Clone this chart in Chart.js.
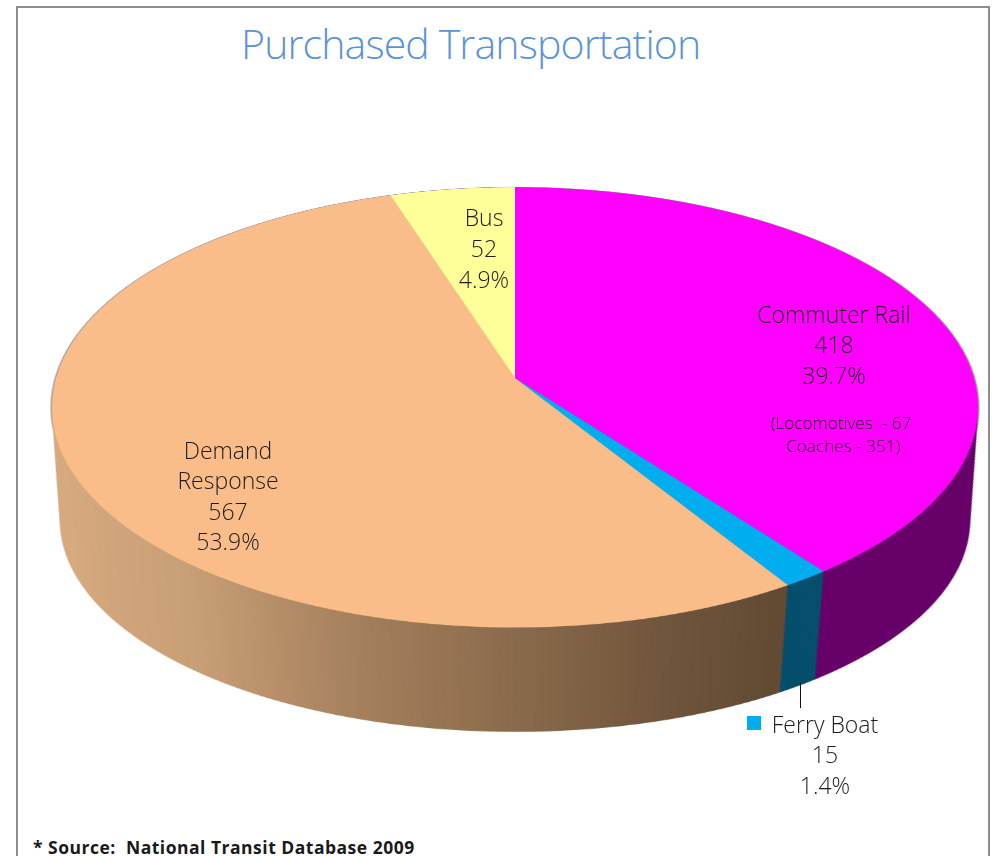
<!DOCTYPE html>
<html>
<head>
<meta charset="utf-8">
<title>Purchased Transportation</title>
<script src="https://cdn.jsdelivr.net/npm/chart.js@4"></script>
<style>
html, body { margin: 0; background: #fff; overflow: hidden; width: 994px; height: 856px; }
#frame { position: absolute; left: 16px; top: 6px; width: 970px; height: 900px; border: 2px solid #8c8c8c; }
#pie { position: absolute; left: 15px; top: -92px; transform-origin: 500px 470px; transform: perspective(3033px) rotateX(61.9deg); }
.txt { position: absolute; white-space: pre; text-align: center; transform: translateX(-50%); font-family: "Open Sans", sans-serif; font-weight: 300; color: #1c1c1c; }
#title { position: absolute; left: 241px; top: 14px; font: 300 41px/58px "Open Sans", sans-serif; letter-spacing: -0.85px; color: #5b93d8; white-space: pre; }
#source { position: absolute; left: 33px; top: 835px; font: 700 17.5px/24px "Open Sans", sans-serif; letter-spacing: 0.5px; color: #1a1a1a; white-space: pre; }
#leader { position: absolute; left: 800px; top: 682px; width: 1px; height: 26px; background: #111; }
#ferryKey { position: absolute; left: 747px; top: 716px; width: 14px; height: 14px; background: #00aeef; }
</style>
</head>
<body>
<div id="frame"></div>
<canvas id="pie" width="1000" height="1120"></canvas>
<div id="title"></div>
<div id="leader"></div>
<div id="ferryKey"></div>
<div id="source"></div>
<script>
"use strict";

const titleText = 'Purchased Transportation';
const sourceText = '* Source:  National Transit Database 2009';

const categories = ['Commuter Rail', 'Ferry Boat', 'Demand Response', 'Bus'];
const values = [418, 15, 567, 52];
const percents = ['39.7%', '1.4%', '53.9%', '4.9%'];
const commuterNote = ['(Locomotives  - 67', ' Coaches - 351)'];

const topColors = ['#ff00ff', '#00aeef', '#fabd8a', '#ffff99'];

document.getElementById('title').textContent = titleText;
document.getElementById('source').textContent = sourceText;

const addText = (lines, x, y, size, lineHeight) => {
  const el = document.createElement('div');
  el.className = 'txt';
  el.style.left = x + 'px';
  el.style.top = y + 'px';
  el.style.fontSize = size + 'px';
  el.style.lineHeight = lineHeight + 'px';
  el.textContent = lines.join('\n');
  document.body.appendChild(el);
};

addText([categories[0], values[0], percents[0]], 834, 298.5, 23, 30.5);
addText(commuterNote, 841, 410.5, 17.2, 23);
addText(['Demand', 'Response', values[2], percents[2]], 228, 434.5, 23, 30.5);
addText([categories[3], values[3], percents[3]], 484, 202, 23, 31);
addText([categories[1], values[1], percents[1]], 825, 708.5, 23, 30.5);

// the side wall is the same pie drawn again and again, a bit lower each time
const wallPlugin = {
  id: 'wall',
  beforeDatasetsDraw(chart) {
    const ctx = chart.ctx;
    const arcs = chart.getDatasetMeta(0).data;
    const cx = arcs[0].x;
    const cy = arcs[0].y;

    const brown = ctx.createLinearGradient(cx - 425, 0, cx + 235, 0);
    brown.addColorStop(0, '#d6a97e');
    brown.addColorStop(0.2, '#c99f76');
    brown.addColorStop(0.45, '#a27e5b');
    brown.addColorStop(0.65, '#8a6a4c');
    brown.addColorStop(0.85, '#6f553b');
    brown.addColorStop(1, '#624a33');
    const wallColors = ['#68006a', '#054f6c', brown, '#8a8a55'];

    const drawLayer = (shift, scaleX, scaleY, colors) => {
      ctx.save();
      ctx.translate(cx, cy + shift);
      ctx.scale(scaleX, scaleY);
      ctx.translate(-cx, -cy);
      arcs.forEach((arc, i) => {
        const opts = arc.options;
        const o = Object.create(opts);
        o.backgroundColor = colors[i];
        arc.options = o;
        arc.draw(ctx);
        arc.options = opts;
      });
      ctx.restore();
    };

    // thin grey rim along the back edge
    drawLayer(0, 1.003, 1.003, ['#a0a0a0', '#a0a0a0', '#a0a0a0', '#a0a0a0']);

    const steps = 130;
    for (let i = steps; i > 0; i--) {
      const t = i / steps;
      drawLayer(t * 232, 1 - t * 0.082, 1 - t * 0.162, wallColors);
    }
  }
};

new Chart(document.getElementById('pie'), {
  type: 'pie',
  data: {
    labels: categories,
    datasets: [{
      data: values,
      backgroundColor: topColors,
      borderWidth: 0,
      radius: 459
    }]
  },
  options: {
    responsive: false,
    animation: false,
    devicePixelRatio: 2,
    layout: { padding: { bottom: 180 } },
    plugins: { legend: { display: false }, tooltip: { enabled: false } }
  },
  plugins: [wallPlugin]
});
</script>
</body>
</html>
